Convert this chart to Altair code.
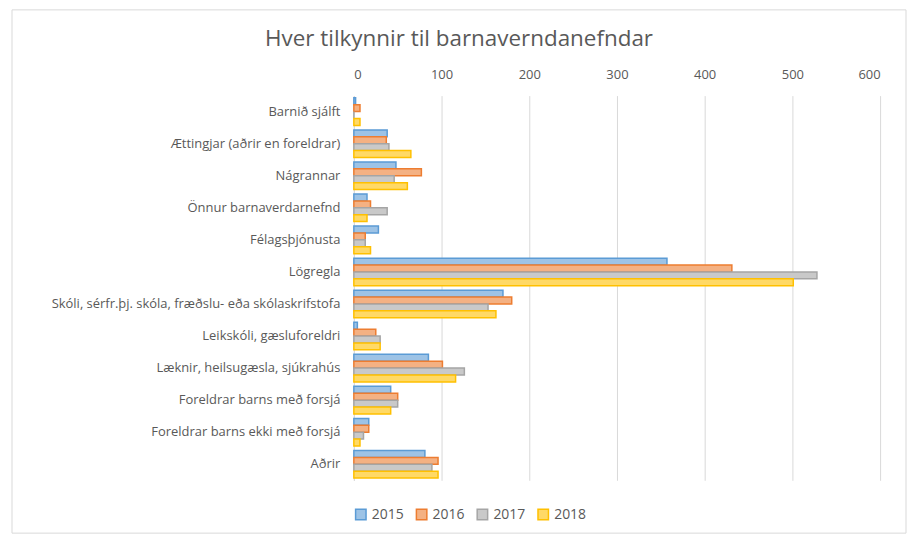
import altair as alt
import pandas as pd

categories = [
    "Barnið sjálft",
    "Ættingjar (aðrir en foreldrar)",
    "Nágrannar",
    "Önnur barnaverdarnefnd",
    "Félagsþjónusta",
    "Lögregla",
    "Skóli, sérfr.þj. skóla, fræðslu- eða skólaskrifstofa",
    "Leikskóli, gæsluforeldri",
    "Læknir, heilsugæsla, sjúkrahús",
    "Foreldrar barns með forsjá",
    "Foreldrar barns ekki með forsjá",
    "Aðrir",
]
years = ["2015", "2016", "2017", "2018"]
v2015 = [2, 38, 48, 15, 28, 357, 170, 4, 85, 42, 17, 81]
v2016 = [7, 37, 77, 19, 13, 431, 180, 25, 101, 50, 17, 96]
v2017 = [0, 40, 46, 38, 13, 528, 153, 30, 126, 50, 11, 89]
v2018 = [7, 65, 61, 15, 19, 501, 162, 30, 116, 42, 7, 96]
fills = ["#9DC3E6", "#F4B183", "#C9C9C9", "#FFD966"]
strokes = ["#5B9BD5", "#ED7D31", "#A5A5A5", "#FFC000"]

rows = []
for y, vals in zip(years, [v2015, v2016, v2017, v2018]):
    for c, v in zip(categories, vals):
        rows.append({"cat": c, "year": y, "value": v})
df = pd.DataFrame(rows)

W, H = 528, 386
FONT = "Open Sans"

bars = alt.Chart(df).mark_bar(strokeWidth=1.5, opacity=1).encode(
    y=alt.Y("cat:N", sort=categories, title=None,
            scale=alt.Scale(paddingInner=0.14, paddingOuter=0.07),
            axis=alt.Axis(labelColor="#595959", labelFontSize=13, labelFont=FONT,
                          ticks=False, domain=True, domainColor="#d9d9d9",
                          labelPadding=14, labelLimit=400)),
    yOffset=alt.YOffset("year:N", sort=years),
    x=alt.X("value:Q", title=None,
            scale=alt.Scale(domain=[0, 600]),
            axis=alt.Axis(orient="top", values=[0, 100, 200, 300, 400, 500, 600],
                          labelColor="#595959", labelFontSize=13, labelFont=FONT,
                          ticks=False, domain=False, gridColor="#d9d9d9",
                          labelPadding=14)),
    color=alt.Color("year:N", sort=years,
                    scale=alt.Scale(domain=years, range=fills),
                    legend=alt.Legend(orient="bottom", title=None, direction="horizontal",
                                      symbolType="square", symbolSize=110,
                                      symbolStrokeWidth=1.5,
                                      labelFontSize=14, labelFont=FONT,
                                      labelColor="#595959", columnPadding=8,
                                      offset=27)),
    stroke=alt.Stroke("year:N", sort=years,
                      scale=alt.Scale(domain=years, range=strokes), legend=None),
)

border = alt.Chart(pd.DataFrame({"a": [0]})).mark_rect(
    fill=None, stroke="#d9d9d9", strokeWidth=1, clip=False
).encode(
    x=alt.value(-343), x2=alt.value(W + 26),
    y=alt.value(-86), y2=alt.value(H + 53),
)

chart = alt.layer(bars, border).properties(
    width=W, height=H, background="white",
    title=alt.TitleParams("Hver tilkynnir  til barnaverndanefndar", fontSize=22.5,
                          font=FONT, fontWeight="normal", color="#595959",
                          anchor="middle", frame="bounds", offset=-41),
    padding={"left": 3, "top": 0, "right": 0, "bottom": 0},
).configure_view(stroke=None)

chart.save("out.html", embed_options={"renderer": "svg", "actions": False})
